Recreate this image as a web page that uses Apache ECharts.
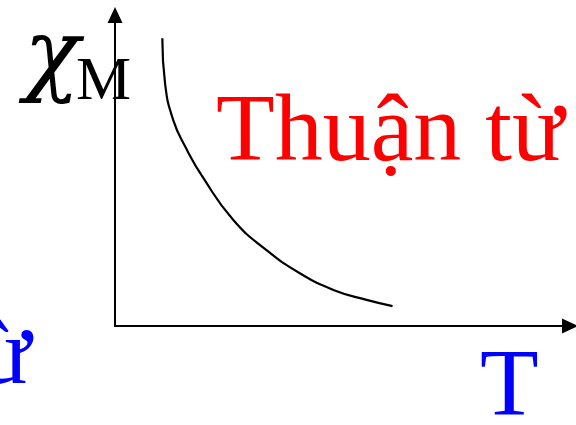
<!DOCTYPE html>
<html>
<head>
<meta charset="utf-8">
<script src="https://cdn.jsdelivr.net/npm/echarts@6/dist/echarts.min.js"></script>
<style>
  html, body { margin: 0; padding: 0; background: #fff; }
  #chart { width: 576px; height: 425px; }
</style>
</head>
<body>
<div id="chart"></div>
<script>
// temperature (arbitrary units) and molar susceptibility
const temps = [10.4, 11.0, 12.8, 15.6, 19.4, 26.0, 33.3, 40.7, 48.0, 55.3, 61.0];
const chiValues = [92.5, 78.0, 66.2, 57.2, 47.6, 34.1, 24.4, 16.9, 11.6, 8.4, 6.4];
const curveData = temps.map((t, i) => [t, chiValues[i]]);

const serif = '"Liberation Serif", "DejaVu Serif", serif';

const chart = echarts.init(document.getElementById('chart'));
const axisStyle = {
    show: true,
    symbol: ['none', 'triangle'],
    symbolSize: [15, 16],
    lineStyle: { color: '#000', width: 2 }
};
chart.setOption({
    animation: false,
    grid: { left: 115, top: 15, right: 6, bottom: 99 },
    xAxis: {
        type: 'value', min: 0, max: 100,
        axisLine: axisStyle,
        axisTick: { show: false },
        axisLabel: { show: false },
        splitLine: { show: false }
    },
    yAxis: {
        type: 'value', min: 0, max: 100,
        axisLine: axisStyle,
        axisTick: { show: false },
        axisLabel: { show: false },
        splitLine: { show: false }
    },
    series: [{
        type: 'line',
        data: curveData,
        smooth: 0.5,
        showSymbol: false,
        lineStyle: { color: '#000', width: 2.2 }
    }],
    graphic: [
        { type: 'text', left: 24, top: 14, z: 10,
          style: { text: 'χ', font: 'italic 92px "DejaVu Serif", serif', fill: '#000' } },
        { type: 'text', left: 76, top: 52, z: 10,
          style: { text: 'M', font: '62px ' + serif, fill: '#000' } },
        { type: 'text', left: 216, top: 87, z: 10,
          style: { text: 'Thuận từ', font: '96px ' + serif, fill: '#ff0000' } },
        { type: 'text', left: 480, top: 342, z: 10,
          style: { text: 'T', font: '96px ' + serif, fill: '#0000ff' } },
        { type: 'text', left: -20, top: 311, z: 10,
          style: { text: 'ừ', font: '94px ' + serif, fill: '#0000ff' } }
    ]
});
</script>
</body>
</html>
